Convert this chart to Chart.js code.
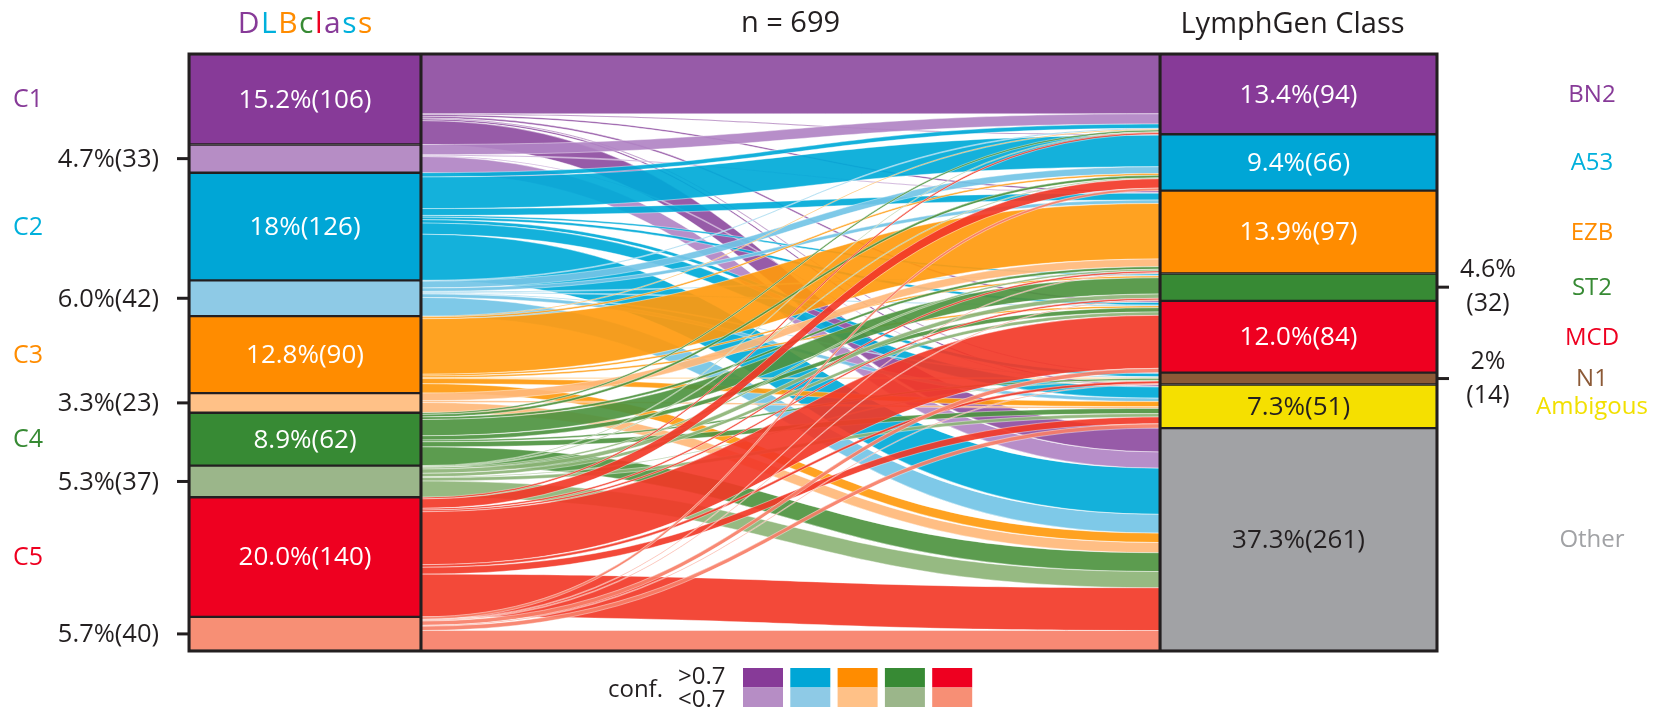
<!DOCTYPE html>
<html><head><meta charset="utf-8">
<script src="https://cdn.jsdelivr.net/npm/chart.js@4"></script>
<style>html,body{margin:0;padding:0;background:#fff;}canvas{display:block}</style>
</head><body>
<canvas id="c" width="1654" height="711"></canvas>
<script>
// ---------- data ----------
const leftClasses = ['C1','C1','C2','C2','C3','C3','C4','C4','C5','C5'];
const leftConf    = ['>0.7','<0.7','>0.7','<0.7','>0.7','<0.7','>0.7','<0.7','>0.7','<0.7'];
const leftCounts  = [106, 33, 126, 42, 90, 23, 62, 37, 140, 40];
const leftLabels  = ['15.2%(106)','4.7%(33)','18%(126)','6.0%(42)','12.8%(90)','3.3%(23)','8.9%(62)','5.3%(37)','20.0%(140)','5.7%(40)'];
const rightClasses = ['BN2','A53','EZB','ST2','MCD','N1','Ambigous','Other'];
const rightCounts  = [94, 66, 97, 32, 84, 14, 51, 261];
const rightLabels  = ['13.4%(94)','9.4%(66)','13.9%(97)','4.6%|(32)','12.0%(84)','2%|(14)','7.3%(51)','37.3%(261)'];
// flows: rows = left segments (C1, C1<0.7, ... C5<0.7), cols = right classes
const flowCounts = [
  [70, 1,  2,  0,  2, 1,  2, 28],
  [12, 0,  1,  0,  0, 0,  1, 19],
  [ 5, 37, 8,  2,  3, 4, 13, 54],
  [ 1, 8,  4,  1,  1, 1,  4, 22],
  [ 1, 2, 65,  2,  2, 1,  6, 11],
  [ 0, 0,  9,  0,  0, 0,  2, 12],
  [ 2, 3,  3, 19,  5, 2,  6, 22],
  [ 1, 1,  2,  5,  4, 1,  4, 19],
  [ 2, 11, 2,  2, 62, 3,  8, 50],
  [ 0, 3,  1,  1,  5, 1,  5, 24]
];
const totalN = 699;

// ---------- styles ----------
const FONT = '"Open Sans", "Noto Sans", sans-serif';
const INK = '#231F20';
const leftColors  = ['#873A98','#B68DC5','#00A6D6','#8ECAE6','#FF8C00','#FFC187','#378A34','#9BB68A','#EE0020','#F78F75'];
const flowColors  = ['#8E4DA1','#B184C4','#00AAD8','#73C4E6','#FF9A0E','#FFB879','#4E9440','#8DB477','#F23A28','#F77F68'];
const classColors = {C1:'#873A98',C2:'#00B0DC',C3:'#FF8C00',C4:'#378A34',C5:'#EE0020'};
const rightColors = ['#873A98','#00A6D6','#FF8C00','#378A34','#EE0020','#8C5A37','#F5E000','#A1A2A5'];
const rightTextColors = ['#873A98','#00B0DC','#FF8C00','#378A34','#EE0020','#8C5A37','#F2E000','#A1A2A5'];
const rightInsideText = ['#fff','#fff','#fff',null,'#fff',null,INK,INK];
const leftInside = [true,false,true,false,true,false,true,false,true,false];

function cum(arr){ const out=[]; let s=0; for(const v of arr){ out.push(s); s+=v; } return out; }
const leftStart = cum(leftCounts), rightStart = cum(rightCounts);

const datasets = [];
leftCounts.forEach((v,i)=>datasets.push({
  label: leftClasses[i]+' '+leftConf[i],
  data: [{x:0, y:[leftStart[i], leftStart[i]+v]}],
  backgroundColor: leftColors[i], borderColor: INK, borderWidth: 1.5, borderSkipped: false,
  barThickness: 232, grouped: false
}));
rightCounts.forEach((v,j)=>datasets.push({
  label: rightClasses[j],
  data: [{x:1, y:[rightStart[j], rightStart[j]+v]}],
  backgroundColor: rightColors[j], borderColor: INK, borderWidth: 1.5, borderSkipped: false,
  barThickness: 277, grouped: false
}));
const nL = leftCounts.length;

function barGeom(chart, di){
  const el = chart.getDatasetMeta(di).data[0];
  const p = el.getProps(['x','y','base','width'], true);
  return {l:p.x-p.width/2, r:p.x+p.width/2, cx:p.x, t:Math.min(p.y,p.base), b:Math.max(p.y,p.base)};
}

const alluvial = {
  id: 'alluvial',
  beforeDatasetsDraw(chart){
    const ctx = chart.ctx, ys = chart.scales.y;
    const x0 = barGeom(chart,0).r, x1 = barGeom(chart,nL).l;
    const xm = (x0+x1)/2;
    const outOff = leftStart.slice(), inOff = rightStart.slice();
    ctx.save();
    for(let i=0;i<nL;i++){
      for(let j=0;j<rightCounts.length;j++){
        const v = flowCounts[i][j];
        if(!v) continue;
        const a0 = ys.getPixelForValue(outOff[i]), a1 = ys.getPixelForValue(outOff[i]+v);
        const b0 = ys.getPixelForValue(inOff[j]),  b1 = ys.getPixelForValue(inOff[j]+v);
        outOff[i]+=v; inOff[j]+=v;
        ctx.beginPath();
        ctx.moveTo(x0,a0);
        ctx.bezierCurveTo(xm,a0,xm,b0,x1,b0);
        ctx.lineTo(x1,b1);
        ctx.bezierCurveTo(xm,b1,xm,a1,x0,a1);
        ctx.closePath();
        ctx.fillStyle = flowColors[i];
        ctx.globalAlpha = 0.92;
        ctx.fill();
        ctx.globalAlpha = 1;
        ctx.lineWidth = 0.6; ctx.strokeStyle = 'rgba(255,255,255,0.7)';
        ctx.stroke();
      }
    }
    ctx.restore();
  },
  afterDatasetsDraw(chart){
    const ctx = chart.ctx, ys = chart.scales.y;
    const Lg = barGeom(chart,0), Rg = barGeom(chart,nL);
    const top = ys.getPixelForValue(0), bot = ys.getPixelForValue(totalN);
    ctx.save();
    // frame
    ctx.strokeStyle = INK; ctx.lineWidth = 3;
    ctx.strokeRect(Lg.l, top, Rg.r-Lg.l, bot-top);
    ctx.beginPath(); ctx.moveTo(Lg.r, top); ctx.lineTo(Lg.r, bot);
    ctx.moveTo(Rg.l, top); ctx.lineTo(Rg.l, bot); ctx.stroke();

    ctx.textBaseline = 'middle';
    // left segment labels
    leftCounts.forEach((v,i)=>{
      const g = barGeom(chart,i);
      const cy = (g.t+g.b)/2;
      if(leftInside[i]){
        ctx.font = '26px '+FONT; ctx.fillStyle = '#fff'; ctx.textAlign='center';
        ctx.fillText(leftLabels[i], g.cx, cy+1);
        ctx.font = '25px '+FONT; ctx.fillStyle = classColors[leftClasses[i]]; ctx.textAlign='left';
        ctx.fillText(leftClasses[i], 13, cy+1);
      } else {
        ctx.strokeStyle = INK; ctx.lineWidth = 3;
        ctx.beginPath(); ctx.moveTo(g.l-12, cy); ctx.lineTo(g.l, cy); ctx.stroke();
        ctx.font = '25.5px '+FONT; ctx.fillStyle = INK; ctx.textAlign='right';
        ctx.fillText(leftLabels[i], g.l-30, cy+1);
      }
    });
    // right segment labels
    rightCounts.forEach((v,j)=>{
      const g = barGeom(chart,nL+j);
      const cy = (g.t+g.b)/2;
      ctx.font = '24px '+FONT; ctx.fillStyle = rightTextColors[j]; ctx.textAlign='center';
      ctx.fillText(rightClasses[j], 1592, cy+1);
      if(rightInsideText[j]){
        ctx.font = '26px '+FONT; ctx.fillStyle = rightInsideText[j];
        ctx.fillText(rightLabels[j], g.cx, cy+1);
      } else {
        ctx.strokeStyle = INK; ctx.lineWidth = 3;
        ctx.beginPath(); ctx.moveTo(g.r, cy); ctx.lineTo(g.r+12, cy); ctx.stroke();
        const parts = rightLabels[j].split('|');
        ctx.font = '25px '+FONT; ctx.fillStyle = INK;
        ctx.fillText(parts[0], 1488, cy-17);
        ctx.fillText(parts[1], 1488, cy+17);
      }
    });
    // titles
    ctx.textAlign = 'center';
    ctx.font = '29px '+FONT; ctx.fillStyle = INK;
    ctx.fillText('n = '+totalN, (Lg.r+Rg.l)/2, 24);
    ctx.fillText('LymphGen Class', Rg.cx - 6, 25);
    ctx.font = '30px '+FONT;
    const t = 'DLBclass';
    const tc = ['#873A98','#00B0DC','#FF8C00','#378A34','#EE0020','#873A98','#00B0DC','#FF8C00'];
    const sp = 1.5;
    let w = 0; for(const ch of t) w += ctx.measureText(ch).width + sp; w -= sp;
    let x = Lg.cx - w/2; ctx.textAlign='left';
    [...t].forEach((ch,k)=>{ ctx.fillStyle = tc[k]; ctx.fillText(ch, x, 24); x += ctx.measureText(ch).width + sp; });

    // confidence legend
    ctx.font = '24px '+FONT; ctx.fillStyle = INK;
    ctx.textAlign='right'; ctx.fillText('conf.', 663, 690);
    ctx.textAlign='left'; ctx.fillText('>0.7', 678, 677); ctx.fillText('<0.7', 678, 700);
    for(let k=0;k<5;k++){
      const lx = 743 + k*47.3;
      ctx.fillStyle = leftColors[2*k];   ctx.fillRect(lx, 668, 40, 19.5);
      ctx.fillStyle = leftColors[2*k+1]; ctx.fillRect(lx, 687.5, 40, 19.5);
    }
    ctx.restore();
  }
};

new Chart(document.getElementById('c'), {
  type: 'bar',
  data: { datasets },
  options: {
    responsive: false, animation: false, devicePixelRatio: 1,
    layout: { padding: { top: 54, bottom: 60, left: 0, right: 0 } },
    scales: {
      x: { type: 'linear', offset: false, min: -0.30700, max: 1.35780, display: false },
      y: { type: 'linear', min: 0, max: totalN, reverse: true, display: false }
    },
    plugins: { legend: { display: false }, tooltip: { enabled: false } }
  },
  plugins: [alluvial]
});
</script>
</body></html>
